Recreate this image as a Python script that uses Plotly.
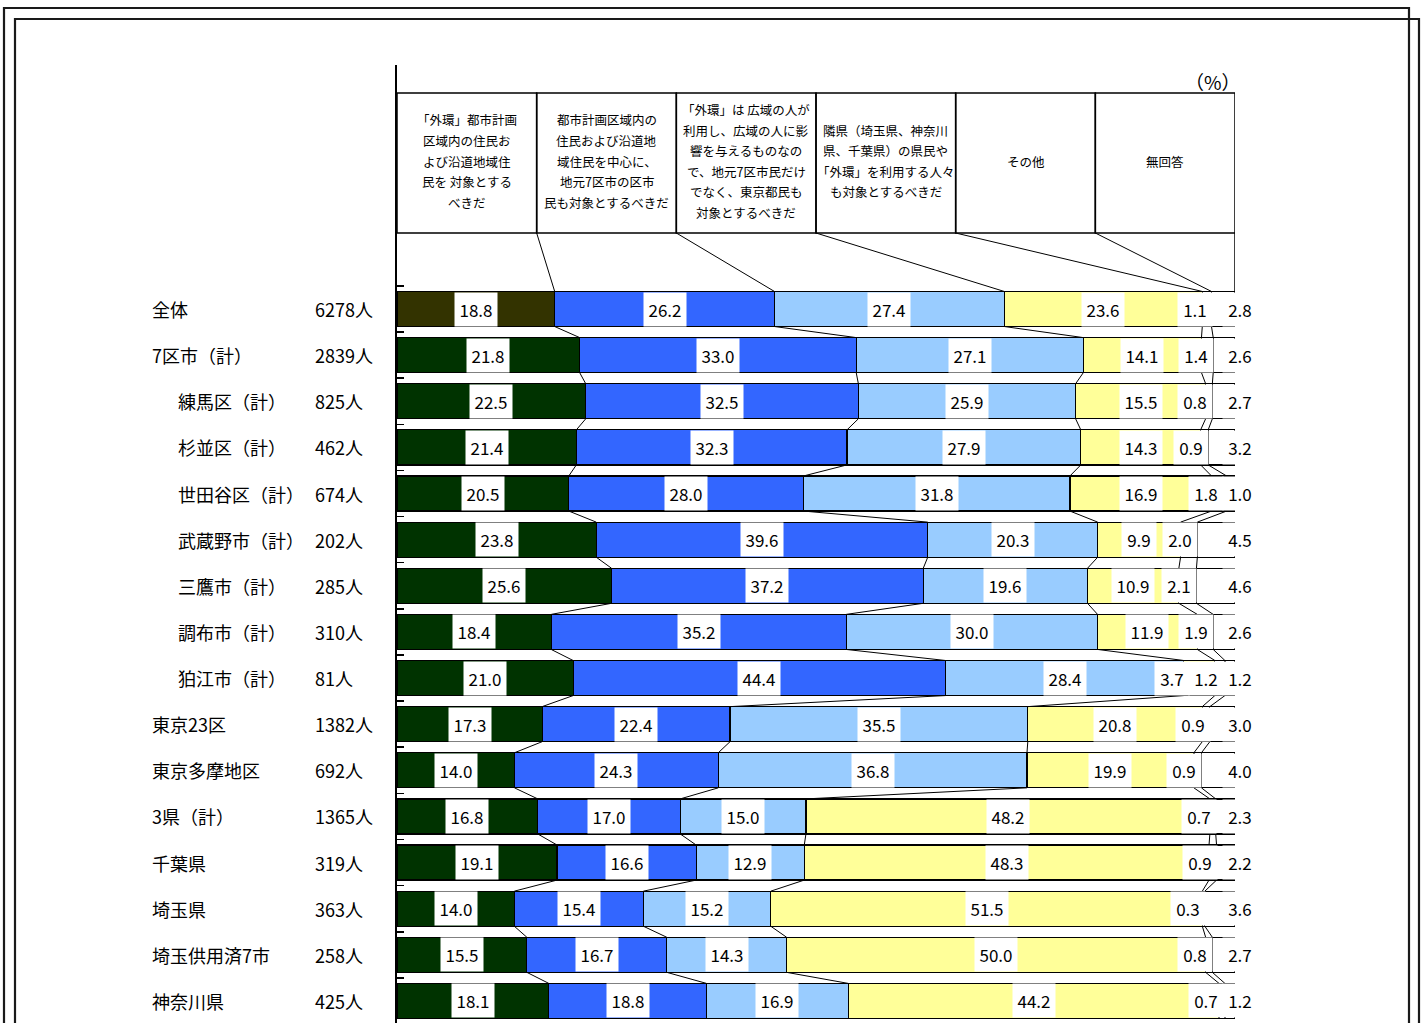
import numpy as np
import plotly.graph_objects as go

# ---------------- data ----------------
categories = ["全体", "7区市（計）", "練馬区（計）", "杉並区（計）", "世田谷区（計）",
              "武蔵野市（計）", "三鷹市（計）", "調布市（計）", "狛江市（計）",
              "東京23区", "東京多摩地区", "3県（計）", "千葉県", "埼玉県",
              "埼玉供用済7市", "神奈川県"]
respondents = ["6278人", "2839人", "825人", "462人", "674人", "202人", "285人", "310人",
               "81人", "1382人", "692人", "1365人", "319人", "363人", "258人", "425人"]

local_only = [18.8, 21.8, 22.5, 21.4, 20.5, 23.8, 25.6, 18.4, 21.0, 17.3, 14.0, 16.8, 19.1, 14.0, 15.5, 18.1]
local_7cities = [26.2, 33.0, 32.5, 32.3, 28.0, 39.6, 37.2, 35.2, 44.4, 22.4, 24.3, 17.0, 16.6, 15.4, 16.7, 18.8]
tokyo_wide = [27.4, 27.1, 25.9, 27.9, 31.8, 20.3, 19.6, 30.0, 28.4, 35.5, 36.8, 15.0, 12.9, 15.2, 14.3, 16.9]
neighbor_prefs = [23.6, 14.1, 15.5, 14.3, 16.9, 9.9, 10.9, 11.9, 3.7, 20.8, 19.9, 48.2, 48.3, 51.5, 50.0, 44.2]
other = [1.1, 1.4, 0.8, 0.9, 1.8, 2.0, 2.1, 1.9, 1.2, 0.9, 0.9, 0.7, 0.9, 0.3, 0.8, 0.7]
no_answer = [2.8, 2.6, 2.7, 3.2, 1.0, 4.5, 4.6, 2.6, 1.2, 3.0, 4.0, 2.3, 2.2, 3.6, 2.7, 1.2]

series_labels = [
    ["「外環」都市計画", "区域内の住民お", "よび沿道地域住", "民を 対象とする", "べきだ"],
    ["都市計画区域内の", "住民および沿道地", "域住民を中心に、", "地元7区市の区市", "民も対象とするべきだ"],
    ["「外環」は 広域の人が", "利用し、広域の人に影", "響を与えるものなの", "で、地元7区市民だけ", "でなく、東京都民も", "対象とするべきだ"],
    ["隣県（埼玉県、神奈川", "県、千葉県）の県民や", "「外環」を利用する人々", "も対象とするべきだ"],
    ["その他"],
    ["無回答"],
]
unit_label = "（%）"

# ---------------- layout geometry (pixels of the 1427x1023 page) ----------------
W, H = 1427, 1023
PL, PR, PT, PB = 397, 1235, 65, 1023
ROW0, PITCH = 309, 46.13
FONT = "Noto Sans CJK JP"


def xp(px):
    return (px - PL) / (PR - PL) * 100.0


def yp(py):
    return (py - ROW0) / PITCH


def paper_x(px):
    return (px - PL) / (PR - PL)


def paper_y(py):
    return (PB - py) / (PB - PT)


series = [local_only, local_7cities, tokyo_wide, neighbor_prefs, other, no_answer]
vals = np.array(series, dtype=float)            # (6, n)
n = vals.shape[1]
norm = vals / vals.sum(axis=0) * 100.0
cum = np.vstack([np.zeros(n), np.cumsum(norm, axis=0)])  # (7, n)

colors = ["#003300", "#3366FF", "#99CCFF", "#FFFF99", "#FFFFFF", "#FFFFFF"]
first_colors = ["#333300"] + ["#003300"] * (n - 1)
ys = list(range(n))
BW = 0.76

fig = go.Figure()
for k, s in enumerate(series):
    fig.add_trace(go.Bar(
        y=ys, x=s, orientation="h", width=BW,
        marker=dict(color=first_colors if k == 0 else colors[k],
                    line=dict(color="#000000", width=1.2)),
        showlegend=False, hoverinfo="skip",
    ))

# series lines connecting segment boundaries of neighbouring bars (and header)
lx, ly = [], []
hb = yp(233)
for k in range(1, 6):
    lx += [k * 100 / 6, cum[k, 0], None]
    ly += [hb, 0 - BW / 2, None]
for i in range(n - 1):
    for k in range(1, 6):
        lx += [cum[k, i], cum[k, i + 1], None]
        ly += [i + BW / 2, i + 1 - BW / 2, None]
fig.add_trace(go.Scatter(x=lx, y=ly, mode="lines", line=dict(color="#000000", width=1),
                         showlegend=False, hoverinfo="skip"))

shapes = []
# header table
ht = yp(93)
for k in range(6):
    shapes.append(dict(type="rect", xref="x", yref="y", x0=k * 100 / 6, x1=(k + 1) * 100 / 6,
                       y0=ht, y1=hb, line=dict(color="#000000", width=1.5), fillcolor="rgba(0,0,0,0)"))
shapes.append(dict(type="line", xref="x", yref="y", x0=100, x1=100, y0=hb, y1=-BW / 2,
                   line=dict(color="#000000", width=1.5)))

# double frame around the page
for (x0, y0, x1, y1) in [(4, 8, 1409, 1040), (15, 19, 1419, 1040)]:
    shapes.append(dict(type="rect", xref="paper", yref="paper",
                       x0=paper_x(x0), x1=paper_x(x1), y0=paper_y(y1), y1=paper_y(y0),
                       line=dict(color="#1a1a1a", width=2.2), fillcolor="rgba(0,0,0,0)",
                       layer="below"))

annotations = []
# header texts
LH = 20.6
for k, lines in enumerate(series_labels):
    m = len(lines)
    for j, t in enumerate(lines):
        py = 161 + (j - (m - 1) / 2) * LH
        annotations.append(dict(x=(k + 0.5) * 100 / 6, y=yp(py), xref="x", yref="y", text=t,
                                showarrow=False, xanchor="center", yanchor="middle",
                                font=dict(family=FONT, size=12.5, color="#000000")))
annotations.append(dict(x=paper_x(1213), y=paper_y(82), xref="paper", yref="paper", text=unit_label,
                        showarrow=False, xanchor="center", yanchor="middle",
                        font=dict(family=FONT, size=19, color="#000000")))

# left labels
indented = {"練馬区（計）", "杉並区（計）", "世田谷区（計）", "武蔵野市（計）",
            "三鷹市（計）", "調布市（計）", "狛江市（計）"}
for i, (c, r) in enumerate(zip(categories, respondents)):
    annotations.append(dict(x=paper_x(176 if c in indented else 150), y=i, xref="paper", yref="y",
                            text=c, showarrow=False, xanchor="left", yanchor="middle",
                            font=dict(family=FONT, size=18, color="#000000")))
    annotations.append(dict(x=paper_x(313), y=i, xref="paper", yref="y", text=r,
                            showarrow=False, xanchor="left", yanchor="middle",
                            font=dict(family=FONT, size=18, color="#000000")))

# value labels with white boxes
PXU = (PR - PL) / 100.0
for i in range(n):
    texts = [f"{vals[k, i]:.1f}" for k in range(6)]
    widths = [8 * len(t) + 10 for t in texts]
    centers = []  # in px
    for k in range(4):
        centers.append(PL + (cum[k, i] + cum[k + 1, i]) / 2 * PXU)
    centers.append(PL + cum[5, i] * PXU - widths[4] / 2)
    centers.append(PR + 5)
    # resolve overlaps from right to left
    for k in range(4, -1, -1):
        limit = centers[k + 1] - (widths[k] + widths[k + 1]) / 2
        if centers[k] > limit:
            centers[k] = limit
    for k in range(6):
        annotations.append(dict(x=paper_x(centers[k]), y=i, xref="paper", yref="y", text=texts[k],
                                showarrow=False, xanchor="center", yanchor="middle",
                                width=widths[k], height=33, bgcolor="#FFFFFF", borderpad=0,
                                font=dict(family=FONT, size=17, color="#000000")))

tickvals = [yp(PT) + 0.01] + [i - 0.5 for i in range(n + 1)]
fig.update_layout(
    width=W, height=H,
    margin=dict(l=PL, r=W - PR, t=PT, b=H - PB),
    paper_bgcolor="#FFFFFF", plot_bgcolor="#FFFFFF",
    barmode="stack", barnorm="percent", bargap=0,
    showlegend=False, hovermode=False,
    shapes=shapes, annotations=annotations,
    xaxis=dict(range=[0, 100], showgrid=False, zeroline=False, showline=False,
               showticklabels=False, ticks="", fixedrange=True),
    yaxis=dict(range=[yp(PB), yp(PT)], showgrid=False, zeroline=False, showline=True,
               linecolor="#000000", linewidth=2, ticks="inside", ticklen=7, tickwidth=1.5,
               tickcolor="#000000", tickvals=tickvals, showticklabels=False, fixedrange=True),
)

fig.write_html("out.html", config={"displayModeBar": False, "staticPlot": True},
               post_script="document.body.style.margin='0px';document.body.style.overflow='hidden';")
